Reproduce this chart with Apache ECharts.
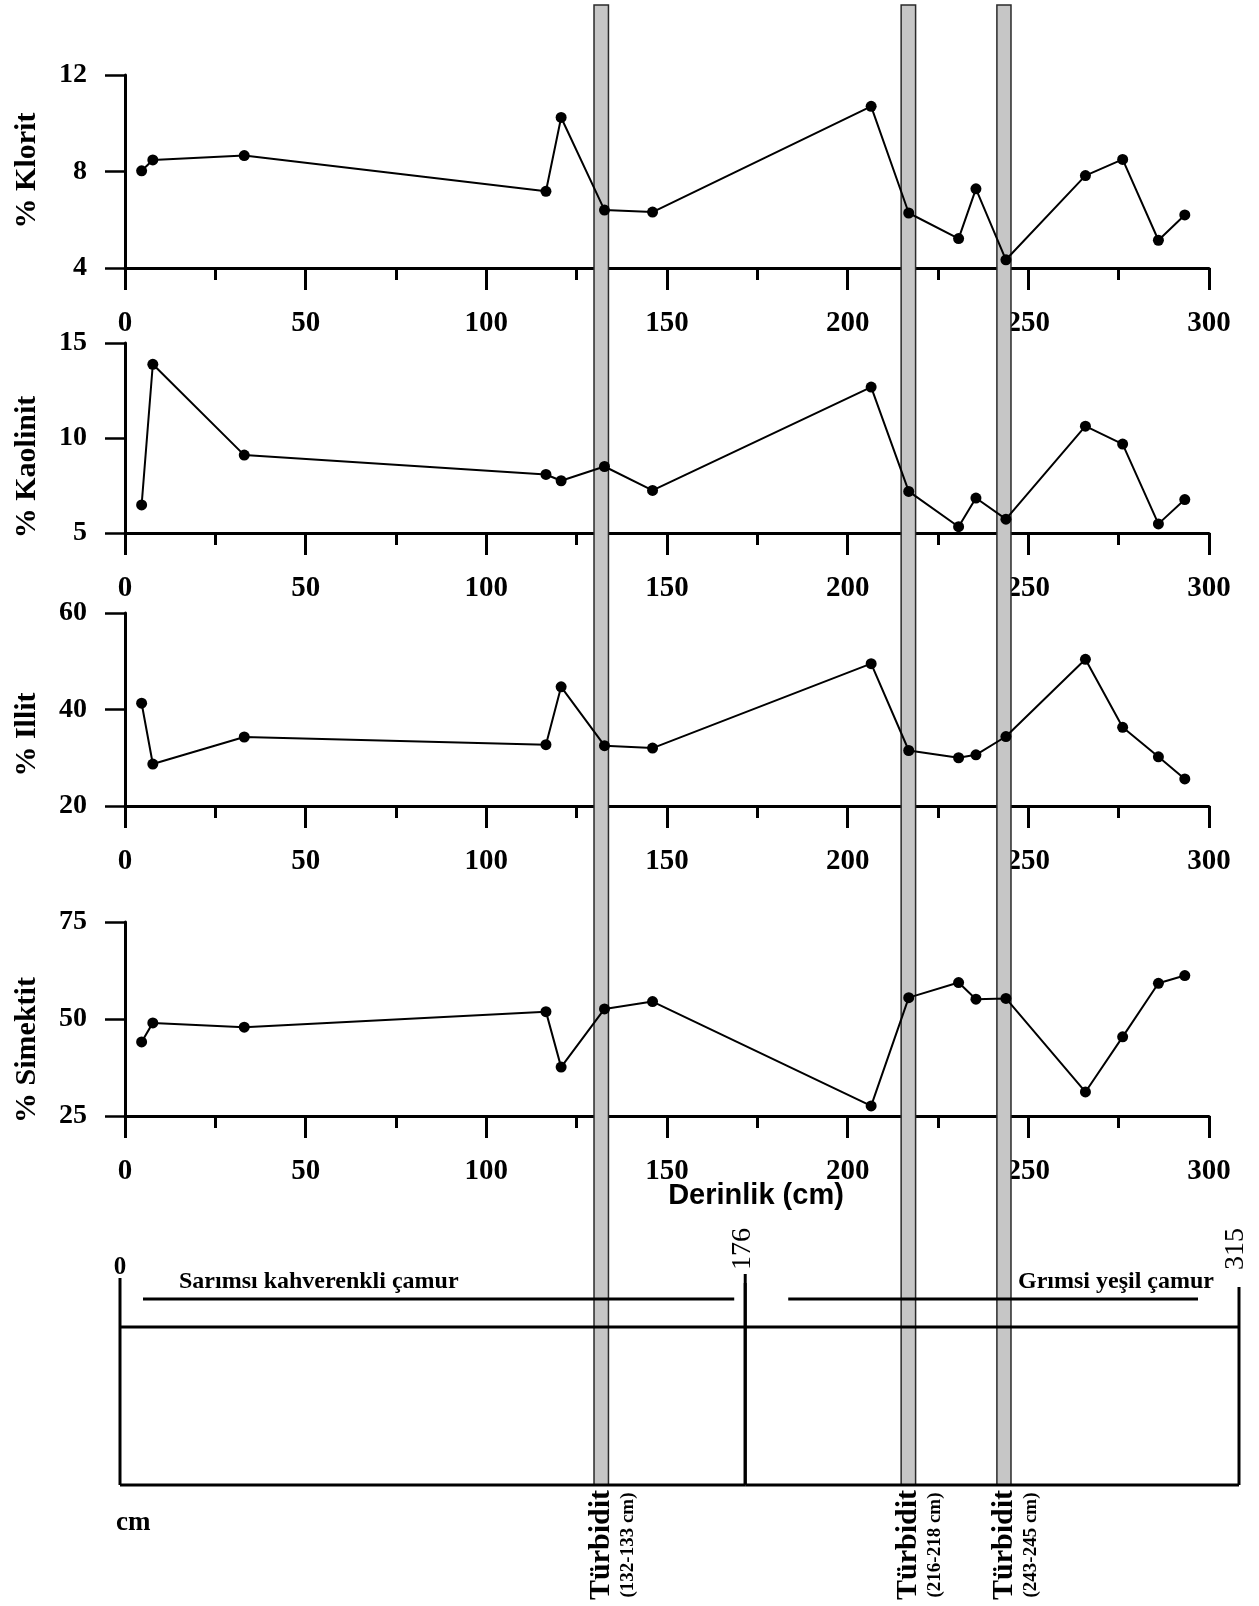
<!DOCTYPE html>
<html><head><meta charset="utf-8">
<script src="https://cdn.jsdelivr.net/npm/echarts@6/dist/echarts.min.js"></script>
<style>html,body{margin:0;padding:0;background:#fff}#c{width:1259px;height:1606px}</style>
</head><body><div id="c"></div>
<script>
// ---- data ----
const depth    = [4.6, 7.7, 33, 116.5, 120.7, 132.7, 146, 206.5, 216.9, 230.7, 235.5, 243.8, 265.8, 276.1, 286, 293.3];
const klorit   = [8.03, 8.48, 8.66, 7.18, 10.24, 6.40, 6.32, 10.70, 6.28, 5.22, 7.28, 4.34, 7.83, 8.50, 5.15, 6.20];
const kaolinit = [6.48, 13.88, 9.10, 8.08, 7.75, 8.50, 7.24, 12.68, 7.19, 5.33, 6.84, 5.73, 10.62, 9.68, 5.48, 6.76];
const illit    = [41.3, 28.7, 34.3, 32.7, 44.7, 32.5, 32.0, 49.5, 31.5, 30.0, 30.6, 34.4, 50.4, 36.3, 30.2, 25.6];
const simektit = [44.1, 49.0, 47.9, 51.9, 37.6, 52.6, 54.5, 27.6, 55.5, 59.4, 55.1, 55.3, 31.2, 45.4, 59.2, 61.2];
const panelNames = ['% Klorit', '% Kaolinit', '% Illit', '% Simektit'];
const yMin = [4, 5, 20, 25];
const yMax = [12, 15, 60, 75];
const yStep = [4, 5, 20, 25];
const xMin = 0, xMax = 300, xStep = 50;
const xTitle = 'Derinlik (cm)';
const turbiditeStart = [129.8, 214.8, 241.3];
const turbiditeEnd   = [133.8, 218.8, 245.2];
const turbiditeLabel = ['(132-133 cm)', '(216-218 cm)', '(243-245 cm)'];
const turbiditeName  = 'Türbidit';
const layerStart = [0, 176];
const layerEnd   = [176, 315];
const layerName  = ['Sarımsı kahverenkli çamur', 'Grımsi yeşil çamur'];
const coreUnit = 'cm';

// ---- layout / style ----
const SERIF = '"Liberation Serif", "Times New Roman", serif';
const SANS = '"Liberation Sans", Arial, sans-serif';
const L = 125, R = 50;
const panelTop = [75, 343, 613, 922];
const panelH   = [193, 190, 193, 194];
const nameShift = [-1, 29, 25, 31];
const series4 = [klorit, kaolinit, illit, simektit];

const grids = [], xAxes = [], yAxes = [], series = [];
for (let i = 0; i < 4; i++) {
  grids.push({left: L, right: R, top: panelTop[i], height: panelH[i]});
  xAxes.push({
    gridIndex: i, type: 'value', min: xMin, max: xMax, interval: xStep,
    axisLine: {show: true, onZero: false, lineStyle: {color: '#000', width: 3}},
    axisTick: {show: true, length: 22, lineStyle: {color: '#000', width: 3}},
    minorTick: {show: true, splitNumber: 2, length: 12, lineStyle: {color: '#000', width: 3}},
    splitLine: {show: false}, minorSplitLine: {show: false},
    axisLabel: {margin: 41, fontSize: 29, fontWeight: 'bold', fontFamily: SERIF, color: '#000',
                showMinLabel: true, showMaxLabel: true}
  });
  const sh = nameShift[i];
  yAxes.push({
    gridIndex: i, type: 'value', min: yMin[i], max: yMax[i], interval: yStep[i],
    axisLine: {show: true, onZero: false, lineStyle: {color: '#000', width: 3}},
    axisTick: {show: true, length: 20, lineStyle: {color: '#000', width: 2.5}},
    splitLine: {show: false},
    axisLabel: {margin: 38, fontSize: 28, fontWeight: 'bold', fontFamily: SERIF, color: '#000',
                showMinLabel: true, showMaxLabel: true},
    name: panelNames[i], nameLocation: 'middle', nameGap: 83, nameMoveOverlap: false,
    nameTextStyle: {fontSize: 30, fontWeight: 'bold', fontFamily: SERIF, color: '#000',
                    padding: sh >= 0 ? [0, 2 * sh, 0, 0] : [0, 0, 0, -2 * sh]}
  });
  series.push({
    type: 'line', xAxisIndex: i, yAxisIndex: i, z: 4,
    data: depth.map((d, j) => [d, series4[i][j]]),
    symbol: 'circle', symbolSize: 11, showSymbol: true,
    itemStyle: {color: '#000'}, lineStyle: {color: '#000', width: 2},
    emphasis: {disabled: true}, animation: false
  });
}

// grid 4: turbidite bands through the whole figure (same depth scale as panels)
const turbTop = 5, turbBottom = 1485;
grids.push({left: L, right: R, top: turbTop, bottom: 1606 - turbBottom});
xAxes.push({gridIndex: 4, type: 'value', min: xMin, max: xMax, show: false});
yAxes.push({gridIndex: 4, type: 'value', min: 0, max: 1, show: false});
series.push({
  type: 'custom', xAxisIndex: 4, yAxisIndex: 4, z: 1, silent: true,
  data: turbiditeStart.map((s, i) => [s, 0, turbiditeEnd[i], i]),
  encode: {x: [0, 2], y: 1},
  renderItem: function (params, api) {
    const i = api.value(3);
    const a = api.coord([api.value(0), 1]);
    const b = api.coord([api.value(2), 0]);
    const cx = (a[0] + b[0]) / 2;
    return {type: 'group', children: [
      {type: 'rect', shape: {x: a[0], y: a[1], width: b[0] - a[0], height: b[1] - a[1]},
       style: {fill: '#c6c6c6', stroke: '#2a2a2a', lineWidth: 1.5}},
      {type: 'text', x: cx, y: b[1] + 60, rotation: Math.PI / 2,
       style: {text: turbiditeName, fontSize: 30, fontWeight: 'bold', fontFamily: SERIF, fill: '#000',
               align: 'center', verticalAlign: 'middle'}},
      {type: 'text', x: cx + 27, y: b[1] + 60, rotation: Math.PI / 2,
       style: {text: turbiditeLabel[i], fontSize: 19, fontWeight: 'bold', fontFamily: SERIF, fill: '#000',
               align: 'center', verticalAlign: 'middle'}}
    ]};
  },
  animation: false
});

// grid 5: core lithology log
const logTop = 1280;
grids.push({left: 120, right: 20, top: logTop, bottom: 1606 - turbBottom});
xAxes.push({gridIndex: 5, type: 'value', min: 0, max: 315, show: false});
yAxes.push({gridIndex: 5, type: 'value', min: 0, max: 1, show: false});
const lineInsetL = [23, 43], lineInsetR = [11, 41];
series.push({
  type: 'custom', xAxisIndex: 5, yAxisIndex: 5, z: 5, silent: true,
  data: layerStart.map((s, i) => [s, 0, layerEnd[i], i]),
  encode: {x: [0, 2], y: 1},
  renderItem: function (params, api) {
    const i = api.value(3);
    const a = api.coord([api.value(0), 1]);
    const b = api.coord([api.value(2), 0]);
    const x0 = a[0], x1 = b[0], T = a[1], B = b[1];
    const ls = {stroke: '#000', lineWidth: 3};
    const ch = [
      {type: 'line', shape: {x1: x0, y1: T + (i === 0 ? -2 : 3), x2: x0, y2: B}, style: ls},
      {type: 'line', shape: {x1: x0, y1: T + 47, x2: x1, y2: T + 47}, style: ls},
      {type: 'line', shape: {x1: x0, y1: B, x2: x1, y2: B}, style: ls},
      {type: 'line', shape: {x1: x0 + lineInsetL[i], y1: T + 19, x2: x1 - lineInsetR[i], y2: T + 19}, style: ls},
      i === 0
        ? {type: 'text', x: x0 + 59, y: T + 2, style: {text: layerName[i], fontSize: 24, fontWeight: 'bold',
            fontFamily: SERIF, fill: '#000', align: 'left', verticalAlign: 'middle'}}
        : {type: 'text', x: x1 - 25, y: T + 2, style: {text: layerName[i], fontSize: 24, fontWeight: 'bold',
            fontFamily: SERIF, fill: '#000', align: 'right', verticalAlign: 'middle'}}
    ];
    if (i === 0) {
      ch.push({type: 'text', x: x0, y: T - 12, style: {text: String(api.value(0)), fontSize: 25, fontWeight: 'bold',
        fontFamily: SERIF, fill: '#000', align: 'center', verticalAlign: 'middle'}});
      ch.push({type: 'text', x: x0 - 4, y: B + 38, style: {text: coreUnit, fontSize: 27, fontWeight: 'bold',
        fontFamily: SERIF, fill: '#000', align: 'left', verticalAlign: 'middle'}});
    }
    // boundary at end of layer
    ch.push({type: 'line', shape: {x1: x1, y1: T + (i === 0 ? -6 : 7), x2: x1, y2: B}, style: ls});
    ch.push({type: 'text', x: x1 - 3, y: T - 31, rotation: Math.PI / 2,
      style: {text: String(api.value(2)), fontSize: 28, fontFamily: SERIF, fill: '#000',
              align: 'center', verticalAlign: 'middle'}});
    return {type: 'group', children: ch};
  },
  animation: false
});

const chart = echarts.init(document.getElementById('c'), null, {renderer: 'canvas'});
chart.setOption({
  backgroundColor: '#fff',
  animation: false,
  grid: grids, xAxis: xAxes, yAxis: yAxes, series: series,
  graphic: [{type: 'text', x: 756, y: 1196, z: 10,
    style: {text: xTitle, fontSize: 29, fontWeight: 'bold', fontFamily: SANS, fill: '#000',
            align: 'center', verticalAlign: 'middle'}}]
});
</script></body></html>
